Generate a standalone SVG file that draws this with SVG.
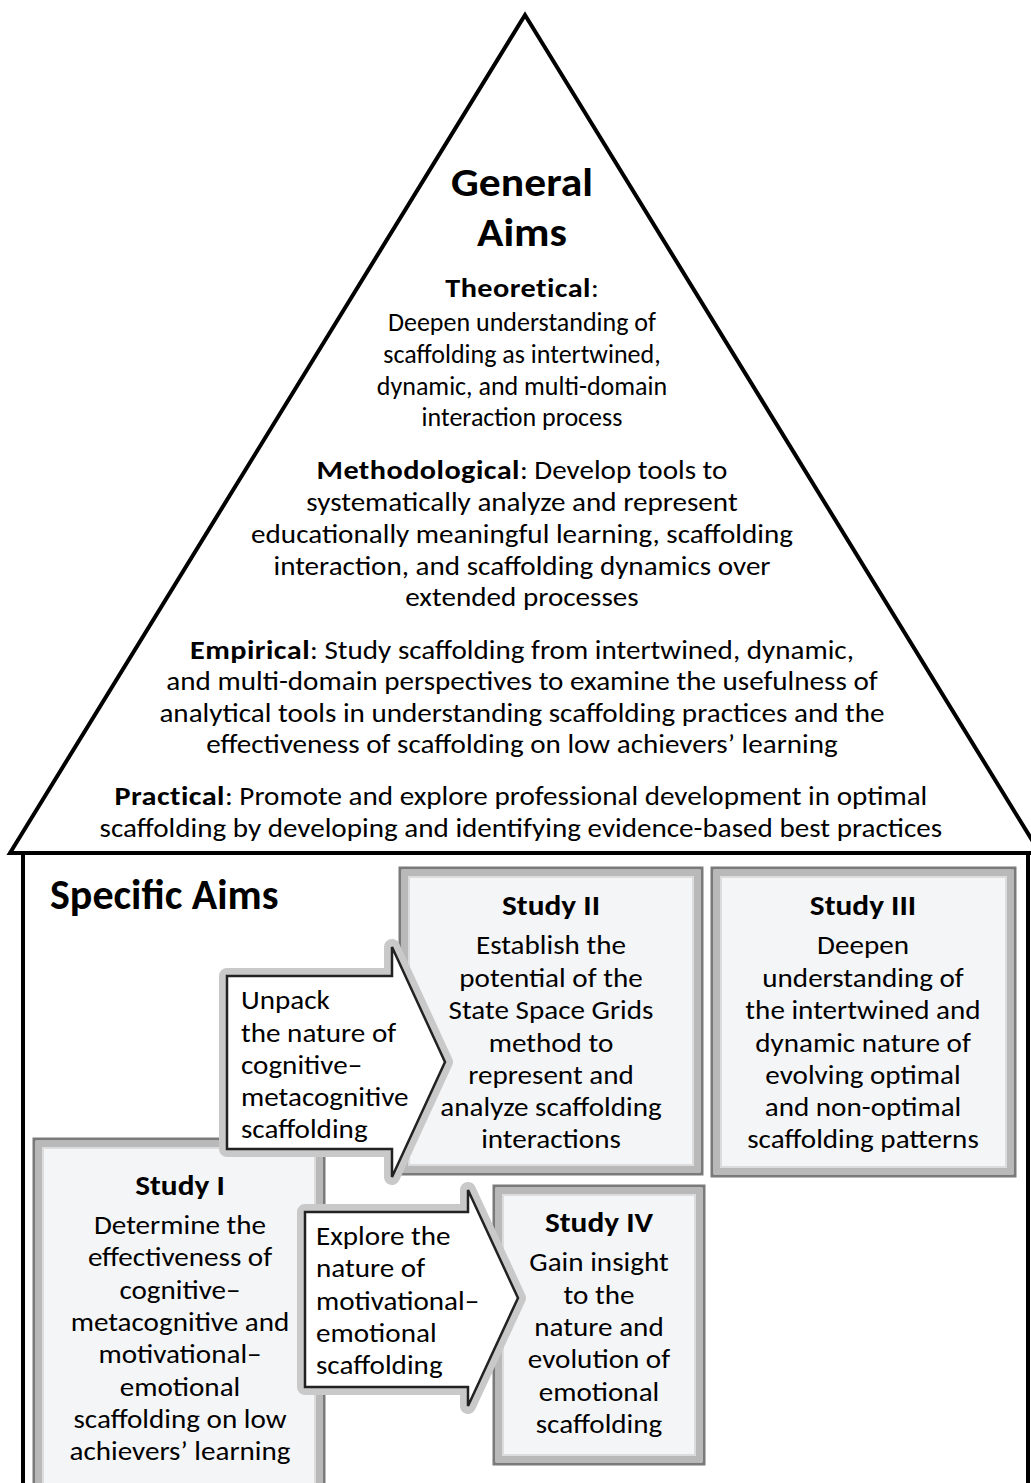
<svg xmlns="http://www.w3.org/2000/svg" width="1031" height="1483" viewBox="0 0 1031 1483">
<defs>
<style>
text{font-family:Carlito,Lato,"Liberation Sans",sans-serif;fill:#000}
.t{font-size:26px;text-anchor:middle}
.b{font-weight:bold;font-size:27px;letter-spacing:0.4px}
.sh{font-size:28px;font-weight:bold;text-anchor:middle}
.h{font-size:40px;font-weight:bold;text-anchor:middle}
.l{font-size:26px;text-anchor:start}
.frameO{fill:#f4f5f7;stroke:#7a7a7a;stroke-width:3}
.frameM{fill:none;stroke:#b9b9b9;stroke-width:6}
.frameI{fill:none;stroke:#dcdcdc;stroke-width:2}
.halo{fill:none;stroke:#c9c9c9;stroke-width:16;stroke-linejoin:round}
.arr{fill:#fff;stroke:#222;stroke-width:2.5;stroke-linejoin:miter}
.line{fill:none;stroke:#000;stroke-width:4}
</style>
</defs>
<rect width="1031" height="1483" fill="#fff"/>
<g id="house">
<path class="line" d="M10,853 L525,15 L1040,853 Z"/>
<path class="line" d="M23,853 L23,1490 M1028,853 L1028,1490"/>
</g>
<g id="general-aims">
<g transform="matrix(1.09 0 0 1 -46.98 0)">
<text class="h" x="522" y="196">General</text>
<text class="h" x="522" y="246">Aims</text>
</g>
<g transform="matrix(1.12 0 0 1 -62.64 0)">
<text class="t" x="522" y="297"><tspan class="b">Theoretical</tspan>:</text>
</g>
<text class="t" x="522" y="331">Deepen understanding of</text>
<text class="t" x="522" y="363">scaffolding as intertwined,</text>
<text class="t" x="522" y="395">dynamic, and multi-domain</text>
<text class="t" x="522" y="426">interaction process</text>
<g transform="matrix(1.12 0 0 1 -62.64 0)">
<text class="t" x="522" y="479"><tspan class="b">Methodological</tspan>: Develop tools to</text>
<text class="t" x="522" y="511">systematically analyze and represent</text>
<text class="t" x="522" y="543">educationally meaningful learning, scaffolding</text>
<text class="t" x="522" y="575">interaction, and scaffolding dynamics over</text>
<text class="t" x="522" y="606">extended processes</text>
<text class="t" x="522" y="659"><tspan class="b">Empirical</tspan>: Study scaffolding from intertwined, dynamic,</text>
<text class="t" x="522" y="690">and multi-domain perspectives to examine the usefulness of</text>
<text class="t" x="522" y="722">analytical tools in understanding scaffolding practices and the</text>
<text class="t" x="522" y="753">effectiveness of scaffolding on low achievers’ learning</text>
<text class="t" x="521" y="805"><tspan class="b">Practical</tspan>: Promote and explore professional development in optimal</text>
<text class="t" x="521" y="837">scaffolding by developing and identifying evidence-based best practices</text>
</g>
</g>
<g id="specific-aims-title">
<text x="50" y="909" style="font-size:42px;font-weight:bold">Specific Aims</text>
</g>
<g id="study2">
<rect class="frameO" x="400" y="868" width="302" height="306"/>
<rect class="frameM" x="405" y="873" width="292" height="296"/>
<rect class="frameI" x="409" y="877" width="284" height="288"/>
<g transform="matrix(1.12 0 0 1 -66.12 0)">
<text class="sh" x="551" y="915">Study II</text>
<text class="t" x="551" y="954">Establish the</text>
<text class="t" x="551" y="987">potential of the</text>
<text class="t" x="551" y="1019">State Space Grids</text>
<text class="t" x="551" y="1052">method to</text>
<text class="t" x="551" y="1084">represent and</text>
<text class="t" x="551" y="1116">analyze scaffolding</text>
<text class="t" x="551" y="1148">interactions</text>
</g>
</g>
<g id="study3">
<rect class="frameO" x="712" y="868" width="303" height="308"/>
<rect class="frameM" x="717" y="873" width="293" height="298"/>
<rect class="frameI" x="721" y="877" width="285" height="290"/>
<g transform="matrix(1.12 0 0 1 -103.56 0)">
<text class="sh" x="863" y="915">Study III</text>
<text class="t" x="863" y="954">Deepen</text>
<text class="t" x="863" y="987">understanding of</text>
<text class="t" x="863" y="1019">the intertwined and</text>
<text class="t" x="863" y="1052">dynamic nature of</text>
<text class="t" x="863" y="1084">evolving optimal</text>
<text class="t" x="863" y="1116">and non-optimal</text>
<text class="t" x="863" y="1148">scaffolding patterns</text>
</g>
</g>
<g id="study1">
<rect class="frameO" x="34" y="1139" width="290" height="360"/>
<rect class="frameM" x="39" y="1144" width="280" height="350"/>
<rect class="frameI" x="43" y="1148" width="272" height="342"/>
<g transform="matrix(1.12 0 0 1 -21.6 0)">
<text class="sh" x="180" y="1195">Study I</text>
<text class="t" x="180" y="1234">Determine the</text>
<text class="t" x="180" y="1266">effectiveness of</text>
<text class="t" x="180" y="1299">cognitive–</text>
<text class="t" x="180" y="1331">metacognitive and</text>
<text class="t" x="180" y="1363">motivational–</text>
<text class="t" x="180" y="1396">emotional</text>
<text class="t" x="180" y="1428">scaffolding on low</text>
<text class="t" x="180" y="1460">achievers’ learning</text>
</g>
</g>
<g id="study4">
<rect class="frameO" x="494" y="1186" width="210" height="278"/>
<rect class="frameM" x="499" y="1191" width="200" height="268"/>
<rect class="frameI" x="503" y="1195" width="192" height="260"/>
<g transform="matrix(1.12 0 0 1 -71.88 0)">
<text class="sh" x="599" y="1232">Study IV</text>
<text class="t" x="599" y="1271">Gain insight</text>
<text class="t" x="599" y="1304">to the</text>
<text class="t" x="599" y="1336">nature and</text>
<text class="t" x="599" y="1368">evolution of</text>
<text class="t" x="599" y="1401">emotional</text>
<text class="t" x="599" y="1433">scaffolding</text>
</g>
</g>
<g id="connectors">
<g id="arrow1">
<path class="halo" d="M227,976 L392,976 L392,947 L445,1062 L392,1177 L392,1149 L227,1149 Z"/>
<path class="arr" d="M227,976 L392,976 L392,947 L445,1062 L392,1177 L392,1149 L227,1149 Z"/>
<g transform="matrix(1.12 0 0 1 -28.92 0)">
<text class="l" x="241" y="1009">Unpack</text>
<text class="l" x="241" y="1042">the nature of</text>
<text class="l" x="241" y="1074">cognitive–</text>
<text class="l" x="241" y="1106">metacognitive</text>
<text class="l" x="241" y="1138">scaffolding</text>
</g>
</g>
<g id="arrow2">
<path class="halo" d="M305,1212 L468,1212 L468,1190 L518,1298 L468,1406 L468,1387 L305,1387 Z"/>
<path class="arr" d="M305,1212 L468,1212 L468,1190 L518,1298 L468,1406 L468,1387 L305,1387 Z"/>
<g transform="matrix(1.12 0 0 1 -37.92 0)">
<text class="l" x="316" y="1245">Explore the</text>
<text class="l" x="316" y="1277">nature of</text>
<text class="l" x="316" y="1310">motivational–</text>
<text class="l" x="316" y="1342">emotional</text>
<text class="l" x="316" y="1374">scaffolding</text>
</g>
</g>
</g>
</svg>
